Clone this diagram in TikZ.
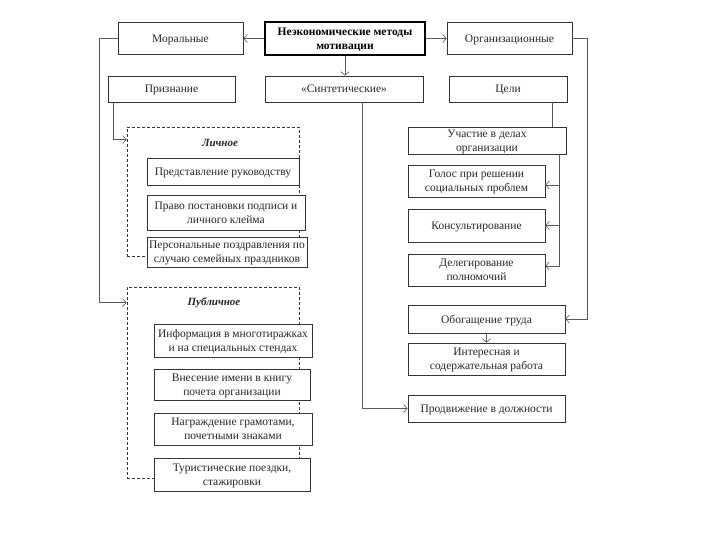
\documentclass[tikz,border=0pt]{standalone}
\usepackage{fontspec}
\setmainfont{Liberation Serif}
\usetikzlibrary{arrows.meta,calc}
\begin{document}
\begin{tikzpicture}[x=1pt,y=-1pt,
 box/.style={draw=black!80, line width=0.8pt, fill=white, align=center, inner sep=1pt, text depth=-2pt, font=\fontsize{11.5}{14}\selectfont, text=black!85},
 mainbox/.style={box, line width=1.6pt, draw=black, text=black, font=\fontsize{11.5}{13.5}\selectfont\bfseries},
 grp/.style={draw=black!80, densely dashed, line width=0.8pt},
 lbl/.style={font=\fontsize{11}{13}\selectfont\bfseries\itshape, text=black!85},
 conn/.style={draw=black!65, line width=0.6pt},
 arr/.style={conn, -{Straight Barb[length=3.5pt,width=8pt]}},
]
\useasboundingbox (0,0) rectangle (720,540);
\fill[white] (0,0) rectangle (720,540);

% top row
\node[mainbox, minimum width=160pt, minimum height=33pt] (main) at (345,38.5) {Неэкономические методы\\мотивации};
\node[box, minimum width=125pt, minimum height=32pt] (moral) at (180.5,38.5) {Моральные};
\node[box, minimum width=125pt, minimum height=32pt] (org) at (509.5,38.5) {Организационные};

% second row
\node[box, minimum width=127pt, minimum height=26pt] (priz) at (171.5,89) {Признание};
\node[box, minimum width=158pt, minimum height=26pt] (sint) at (344,89) {«Синтетические»};
\node[box, minimum width=118pt, minimum height=26pt] (celi) at (508,89) {Цели};

% groups
\node[grp, minimum width=172pt, minimum height=129pt] (lgrp) at (213,191.5) {};
\node[grp, minimum width=172pt, minimum height=191pt] (pgrp) at (213,382.5) {};
\node[lbl] (llbl) at (220,143) {Личное};
\node[lbl] (plbl) at (214,303) {Публичное};

% personal
\node[box, minimum width=152pt, minimum height=27pt] (pred) at (223,171.5) {Представление руководству};
\node[box, minimum width=158pt, minimum height=35pt] (pravo) at (226,212.5) {Право постановки подписи и\\личного клейма};
\node[box, minimum width=160pt, minimum height=30pt] (pers) at (227,252) {Персональные поздравления по\\случаю семейных праздников};

% public
\node[box, minimum width=158pt, minimum height=33pt] (info) at (233,340.5) {Информация в многотиражках\\и на специальных стендах};
\node[box, minimum width=156pt, minimum height=31pt] (vnes) at (232,384.5) {Внесение имени в книгу\\почета организации};
\node[box, minimum width=158pt, minimum height=32pt] (nagr) at (233,429) {Награждение грамотами,\\почетными знаками};
\node[box, minimum width=156pt, minimum height=33pt] (tur) at (232,474.5) {Туристические поездки,\\стажировки};

% right column
\node[box, minimum width=158pt, minimum height=27pt] (uch) at (487,140.5) {Участие в делах\\организации};
\node[box, minimum width=137pt, minimum height=32pt] (golos) at (476.5,181) {Голос при решении\\социальных проблем};
\node[box, minimum width=137pt, minimum height=33pt] (kons) at (476.5,225.5) {Консультирование};
\node[box, minimum width=137pt, minimum height=32pt] (deleg) at (476.5,270) {Делегирование\\полномочий};
\node[box, minimum width=157pt, minimum height=28pt] (obog) at (486.5,319) {Обогащение труда};
\node[box, minimum width=157pt, minimum height=32pt] (inter) at (486.5,359) {Интересная и\\содержательная работа};
\node[box, minimum width=157pt, minimum height=27pt] (prod) at (486.5,408.5) {Продвижение в должности};

% connectors
\draw[arr] (main.west) -- (moral.east);
\draw[arr] (main.east) -- (org.west);
\draw[arr] (main.south) -- (main.south |- sint.north);
\draw[arr] (moral.west) -- ++(-18,0) |- ([yshift=-16pt]pgrp.north west);
\draw[arr] ([xshift=6pt]priz.south west) |- ([yshift=-13pt]lgrp.north west);
\draw[arr] ([xshift=18pt]sint.south) |- (prod.west);
\path ([xshift=44pt]celi.south) coordinate (c1);
\draw[conn] (c1) -- (c1 |- uch.north);
\path ([xshift=72pt]uch.south) coordinate (sp);
\draw[arr] (sp) |- ([yshift=-4pt]golos.east);
\draw[arr] (sp) |- (kons.east);
\draw[arr] (sp) |- ([yshift=4pt]deleg.east);
\draw[arr] (org.east) -- ++(15,0) |- (obog.east);
\draw[arr] (obog.south) -- (inter.north);
\end{tikzpicture}
\end{document}
